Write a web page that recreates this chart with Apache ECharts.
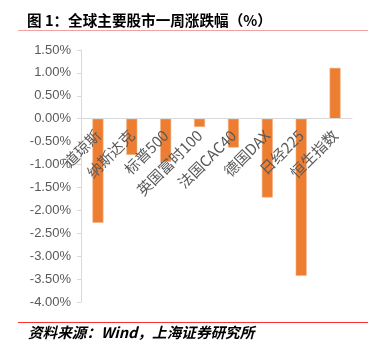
<!DOCTYPE html>
<html><head><meta charset="utf-8">
<script src="https://cdn.jsdelivr.net/npm/echarts@6/dist/echarts.min.js"></script>
<style>html,body{margin:0;padding:0;background:#fff}#c{width:377px;height:351px}</style>
</head><body><div id="c"></div>
<script>
const categories = ['道琼斯','纳斯达克','标普500','英国富时100','法国CAC40','德国DAX','日经225','恒生指数'];
const values = [-2.27, -0.79, -0.94, -0.18, -0.63, -1.72, -3.43, 1.11];
const titleText = '图 1：全球主要股市一周涨跌幅（%）';
const sourceText = '资料来源：Wind，上海证券研究所';
const yMin = -4, yMax = 1.5, yStep = 0.5;

const gridTop = 50, gridBottom = 49, H = 351;
const plotH = H - gridTop - gridBottom;
const zeroOffset = -(plotH * (0 - yMin) / (yMax - yMin));

const chart = echarts.init(document.getElementById('c'), null, {renderer:'canvas'});
const fontFam = '"Noto Sans CJK SC","Liberation Sans",sans-serif';
chart.setOption({
  animation:false,
  grid:{left:81,right:25,top:gridTop,bottom:gridBottom,containLabel:false,outerBoundsMode:'none'},
  xAxis:{type:'category',data:categories,position:'bottom',offset:zeroOffset,
    axisLine:{onZero:false,lineStyle:{color:'#d9d9d9',width:1}},
    axisTick:{show:false},
    z:5,
    axisLabel:{interval:0,rotate:45,margin:14,color:'#595959',fontSize:15,fontFamily:fontFam}},
  yAxis:{type:'value',min:yMin,max:yMax,interval:yStep,
    axisLine:{show:true,lineStyle:{color:'#d9d9d9'}},
    axisTick:{show:true,inside:false,length:4,lineStyle:{color:'#d9d9d9'}},
    splitLine:{show:false},
    axisLabel:{color:'#595959',fontSize:13,fontFamily:'"Liberation Sans",sans-serif',margin:10,formatter:v=>v.toFixed(2)+'%'}},
  series:[
    {type:'bar',data:values,barWidth:11,z:2,
      itemStyle:{color:'#ED7D31',borderColor:'#f4b183',borderWidth:0.6}}
  ],
  graphic:[
    {type:'text',left:27,top:13,style:{text:titleText,font:'bold 14.6px "Noto Sans CJK SC",sans-serif',fill:'#000'}},
    {type:'line',shape:{x1:18,y1:30.5,x2:368,y2:30.5},style:{stroke:'#f4a0a0',lineWidth:1}},
    {type:'line',shape:{x1:18,y1:322.5,x2:368,y2:322.5},style:{stroke:'#ff3030',lineWidth:1}},
    {type:'text',left:28,top:325,style:{text:sourceText,font:'italic bold 14.6px "Noto Sans CJK SC",sans-serif',fill:'#000'}}
  ]
});
</script></body></html>
